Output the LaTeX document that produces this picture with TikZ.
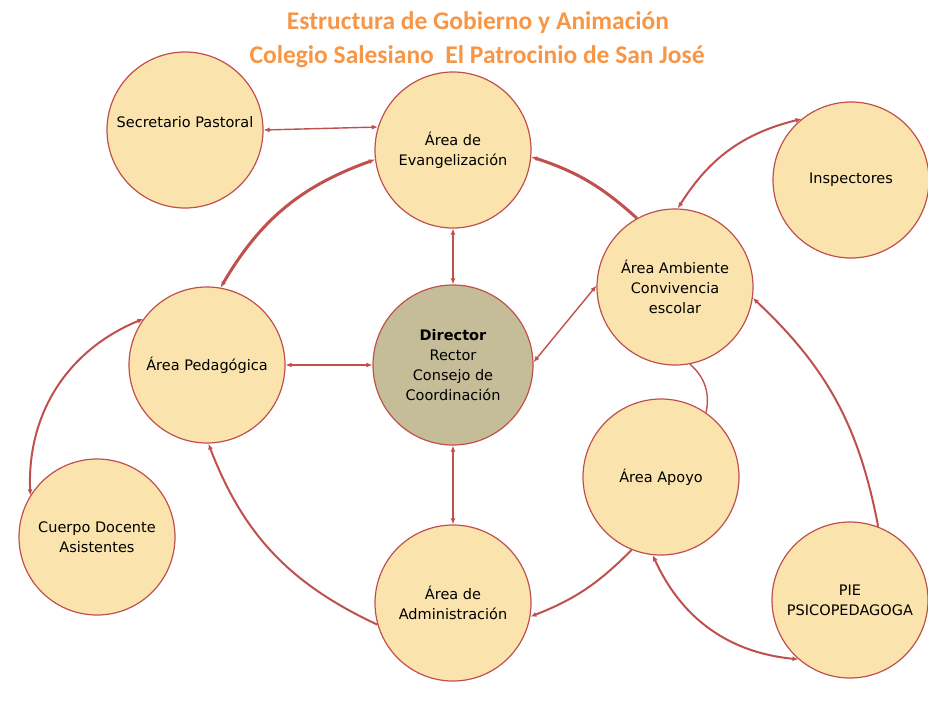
\documentclass[tikz,border=0pt]{standalone}
\usepackage{fontspec}
\setmainfont{DejaVu Sans}
\newfontfamily\titlefont{Carlito}
\usetikzlibrary{arrows.meta}
\definecolor{mred}{RGB}{192,80,77}
\definecolor{mfill}{RGB}{250,227,172}
\definecolor{mtan}{RGB}{196,189,151}
\definecolor{morange}{RGB}{247,150,70}

\begin{document}
\begin{tikzpicture}[x=1pt, y=1pt, >={Latex[length=6pt, width=5pt]},
    area/.style={circle, draw=mred, line width=1.2pt, fill=mfill, minimum size=156pt,
        inner sep=0pt, align=center, font=\fontsize{14.5}{20}\selectfont},
    thin/.style={mred, line width=1.4pt},
    mid/.style={mred, line width=2pt},
    thick/.style={mred, line width=3pt},
    heading/.style={text=morange, font=\titlefont\bfseries\fontsize{25.5}{28}\selectfont}]
    \useasboundingbox (0, 0) rectangle (928, -710);

    \node[heading] (title1) at (478, -23) {Estructura de Gobierno y Animación};
    \node[heading] (title2) at (477, -57) {Colegio Salesiano\ \ El Patrocinio de San José};

    \node[area, text depth=16pt] (sec) at (185, -130) {Secretario Pastoral};
    \node[area] (eva) at (453, -150) {Área de\\Evangelización};
    \node[area, fill=mtan, minimum size=160pt] (dir) at (453, -365)
        {\textbf{Director}\\Rector\\Consejo de\\Coordinación};
    \node[area] (ped) at (207, -365) {Área Pedagógica};
    \node[area] (doc) at (97, -537)  {Cuerpo Docente\\Asistentes};
    \node[area] (adm) at (453, -603) {Área de\\Administración};
    \node[area] (amb) at (675, -287) {Área Ambiente\\Convivencia\\escolar};
    \node[area] (ins) at (851, -180) {Inspectores};
    \node[area] (apo) at (661, -477) {Área Apoyo};
    \node[area] (pie) at (850, -600) {PIE\\PSICOPEDAGOGA};

    \draw[<->, thin] (sec.east) -- (eva.163);
    \draw[<->, thin] (eva.south) -- (dir.north);
    \draw[<->, thin] (ped.east) -- (dir.west);
    \draw[<->, thin] (dir.south) -- (adm.north);
    \draw[<->, thin] (dir.2) -- (amb.179);

    \draw[<->, thick] (ped.80) to[bend left=20] (eva.187);
    \draw[->, thick] (amb.119) to[bend right=12] (eva.355);
    \draw[<->, mid] (ins.129) to[bend right=22] (amb.88);
    \draw[->, mid] (pie.69) to[bend right=18] (amb.352);
    \draw[thin] (amb.281) to[bend left=30] (apo.55);
    \draw[->, mid] (apo.248) to[bend left=12] (adm.350);
    \draw[<->, mid] (apo.264) to[bend right=30] (pie.229);
    \draw[->, mid] (adm.196) to[bend left=22] (ped.271);
    \draw[<->, mid] (ped.144) to[bend right=35] (doc.148);
\end{tikzpicture}
\end{document}
